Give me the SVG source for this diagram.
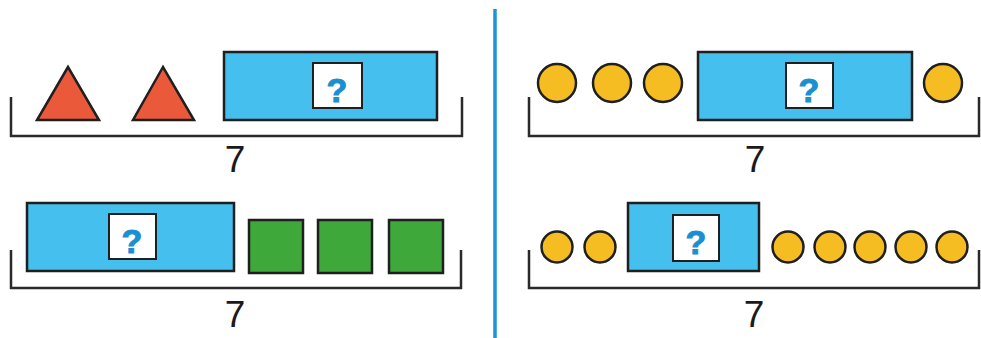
<svg xmlns="http://www.w3.org/2000/svg" width="981" height="338" viewBox="0 0 981 338">
<style>
.br{fill:none;stroke:#2a2a2a;stroke-width:2.5}
.bar{fill:#45bfee;stroke:#1f1f1f;stroke-width:2.5}
.q{fill:#ffffff;stroke:#1f1f1f;stroke-width:2}
.qt{font-family:"Liberation Sans",Arial,sans-serif;font-weight:bold;font-size:34px;fill:#1a8fd2;stroke:#1a8fd2;stroke-width:1;text-anchor:middle}
.num{font-family:"Liberation Sans",Arial,sans-serif;font-size:37px;fill:#1a1a1a;text-anchor:middle}
.tri{fill:#ea5a3a;stroke:#1f1f1f;stroke-width:2.5;stroke-linejoin:miter}
.sq{fill:#3fa83a;stroke:#1f1f1f;stroke-width:2.5}
.c1{fill:#f6bd22;stroke:#1f1f1f;stroke-width:2.5}
</style>
<rect width="981" height="338" fill="#ffffff"/>
<line x1="495" y1="9" x2="495" y2="338" stroke="#1b95d6" stroke-width="3.5"/>

<g id="panel1">
  <polygon class="tri" points="68,67 37,120 99,120"/>
  <polygon class="tri" points="163,67 133,120 194,120"/>
  <rect class="bar" x="224" y="52" width="213" height="68"/>
  <rect class="q" x="313" y="63" width="49" height="45"/>
  <text class="qt" x="337" y="102">?</text>
  <path class="br" d="M11,97 V136 H462 V97"/>
  <text class="num" x="235" y="172">7</text>
</g>

<g id="panel2">
  <rect class="bar" x="27" y="203" width="207" height="68"/>
  <rect class="q" x="109" y="214" width="47" height="45"/>
  <text class="qt" x="132" y="253">?</text>
  <rect class="sq" x="249" y="220" width="54" height="53"/>
  <rect class="sq" x="318" y="220" width="54" height="53"/>
  <rect class="sq" x="389" y="220" width="54" height="53"/>
  <path class="br" d="M11,250 V288 H461 V250"/>
  <text class="num" x="235" y="327">7</text>
</g>

<g id="panel3">
  <circle class="c1" cx="557" cy="83" r="19"/>
  <circle class="c1" cx="612" cy="83" r="19"/>
  <circle class="c1" cx="663" cy="83" r="19"/>
  <rect class="bar" x="698" y="52" width="214" height="68"/>
  <rect class="q" x="786" y="63" width="47" height="45"/>
  <text class="qt" x="809" y="102">?</text>
  <circle class="c1" cx="943" cy="83" r="19"/>
  <path class="br" d="M529,97 V136 H979 V97"/>
  <text class="num" x="755" y="172">7</text>
</g>

<g id="panel4">
  <circle class="c1" cx="557" cy="247" r="15.5"/>
  <circle class="c1" cx="600" cy="247" r="15.5"/>
  <rect class="bar" x="628" y="203" width="131" height="68"/>
  <rect class="q" x="673" y="215" width="46" height="46"/>
  <text class="qt" x="696" y="254">?</text>
  <circle class="c1" cx="788" cy="247" r="15.5"/>
  <circle class="c1" cx="830" cy="247" r="15.5"/>
  <circle class="c1" cx="870" cy="247" r="15.5"/>
  <circle class="c1" cx="911" cy="247" r="15.5"/>
  <circle class="c1" cx="952" cy="247" r="15.5"/>
  <path class="br" d="M529,250 V288 H979 V250"/>
  <text class="num" x="754" y="327">7</text>
</g>
</svg>
